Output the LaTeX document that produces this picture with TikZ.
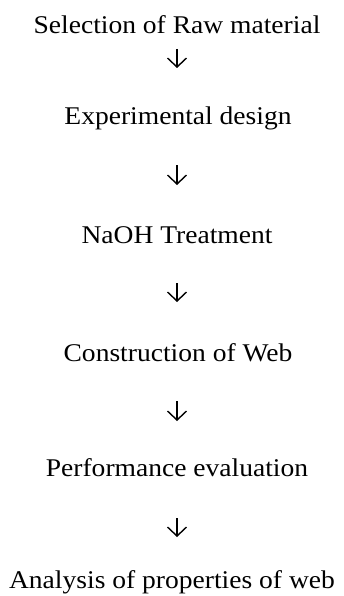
\documentclass[tikz,border=0pt]{standalone}
\usepackage{fontspec}
\setmainfont[FakeStretch=1.08]{Liberation Serif}
\usetikzlibrary{arrows.meta}

\begin{document}
\begin{tikzpicture}[x=1pt,y=-1pt,
    stage/.style={inner sep=0pt, anchor=base, font=\fontsize{25.5}{30}\selectfont},
    flow/.style={line width=1.4pt, -{Straight Barb[length=9pt,width=19pt]}}]
            \useasboundingbox (0,0) rectangle (343,596);

            % Stages
            \node[stage] (s1) at (177,34) {Selection of Raw material};
            \node[stage] (s2) at (178,125) {Experimental design};
            \node[stage] (s3) at (177,243) {NaOH Treatment};
            \node[stage] (s4) at (178,361) {Construction of Web};
            \node[stage] (s5) at (177,476) {Performance evaluation};
            \node[stage] (s6) at (172,588) {Analysis of properties of web};

            % Arrows
            \draw[flow, shorten <=15pt, shorten >=57pt] (s1.base -| 177,0) -- (s2.base -| 177,0);
            \draw[flow, shorten <=40pt, shorten >=58pt] (s2.base -| 177,0) -- (s3.base -| 177,0);
            \draw[flow, shorten <=40pt, shorten >=59pt] (s3.base -| 177,0) -- (s4.base -| 177,0);
            \draw[flow, shorten <=40pt, shorten >=55pt] (s4.base -| 177,0) -- (s5.base -| 177,0);
            \draw[flow, shorten <=42pt, shorten >=51pt] (s5.base -| 177,0) -- (s6.base -| 177,0);

\end{tikzpicture}
\end{document}
